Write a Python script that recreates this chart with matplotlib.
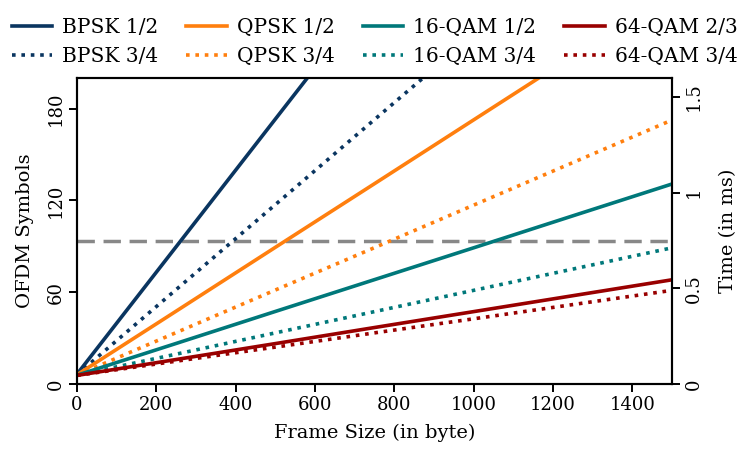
import matplotlib
matplotlib.use("Agg")
import matplotlib.pyplot as plt
from matplotlib.lines import Line2D

plt.rcParams["font.family"] = ["DejaVu Serif"]
plt.rcParams["font.size"] = 14

# Frame sizes (bytes) at which the symbol counts are sampled
frame_sizes = [0, 250, 500, 750, 1000, 1250, 1500]

# OFDM symbols per frame for each modulation / coding rate
bpsk_12 = [6.4, 89.7, 173.1, 256.4]
bpsk_34 = [6.1, 61.7, 117.2, 172.8, 228.3]
qpsk_12 = [6.0, 47.6, 89.3, 130.9, 172.6, 214.3]
qpsk_34 = [5.8, 33.6, 61.4, 89.1, 116.9, 144.7, 172.5]
qam16_12 = [5.7, 26.5, 47.4, 68.2, 89.0, 109.9, 130.7]
qam16_34 = [5.7, 19.5, 33.4, 47.3, 61.2, 75.1, 89.0]
qam64_23 = [5.6, 16.0, 26.4, 36.9, 47.3, 57.7, 68.1]
qam64_34 = [5.6, 14.9, 24.1, 33.4, 42.6, 51.9, 61.2]

series_labels = ["BPSK 1/2", "BPSK 3/4", "QPSK 1/2", "QPSK 3/4",
                 "16-QAM 1/2", "16-QAM 3/4", "64-QAM 2/3", "64-QAM 3/4"]
series_values = [bpsk_12, bpsk_34, qpsk_12, qpsk_34,
                 qam16_12, qam16_34, qam64_23, qam64_34]

symbol_time_ms = 0.008     # duration of one OFDM symbol
time_limit_ms = 0.75       # horizontal reference line

colors = {"BPSK": "#0a3560", "QPSK": "#ff7f0e", "16-QAM": "#00787a",
          "64-QAM": "#990000"}

fig = plt.figure(figsize=(7.4, 4.54), dpi=100)
ax = fig.add_axes([0.104, 0.1542, 0.804, 0.674])

ax.axhline(time_limit_ms / symbol_time_ms, color="#888888", lw=2.5,
           linestyle=(0, (5, 2.5)), zorder=1)

handles = []
for label, vals in zip(series_labels, series_values):
    mod = label.split()[0]
    solid = label.endswith("1/2") or label.endswith("2/3")
    ls = "-" if solid else (0, (1.0, 1.6))
    ax.plot(frame_sizes[:len(vals)], vals, color=colors[mod], lw=2.6,
            linestyle=ls, zorder=3, solid_capstyle="butt")
    handles.append(Line2D([], [], color=colors[mod], lw=2.6, linestyle=ls))

ax.set_xlim(0, 1500)
ax.set_ylim(0, 200)
ax.set_xticks([0, 200, 400, 600, 800, 1000, 1200, 1400])
ax.set_yticks([0, 60, 120, 180])
for lbl in ax.get_yticklabels():
    lbl.set_rotation(90)
    lbl.set_va("center")
ax.set_xlabel("Frame Size (in byte)", labelpad=7)
ax.set_ylabel("OFDM Symbols", labelpad=9)

ax2 = ax.twinx()
ax2.set_ylim(0, 200 * symbol_time_ms)
ax2.set_yticks([0, 0.5, 1, 1.5])
ax2.set_yticklabels(["0", "0.5", "1", "1.5"])
for lbl in ax2.get_yticklabels():
    lbl.set_rotation(90)
    lbl.set_va("center")
ax2.set_ylabel("Time (in ms)", labelpad=12)

for a in (ax, ax2):
    for sp in a.spines.values():
        sp.set_linewidth(1.5)
    a.tick_params(direction="out", length=6, width=1.4, pad=3, labelsize=13)

fig.legend(handles, series_labels, ncol=4, loc="upper center",
           bbox_to_anchor=(0.506, 1.0), frameon=False, handlelength=2.0,
           handletextpad=0.5, columnspacing=1.4, labelspacing=0.5,
           fontsize=14.5)

fig.savefig("out.png", dpi=100)
